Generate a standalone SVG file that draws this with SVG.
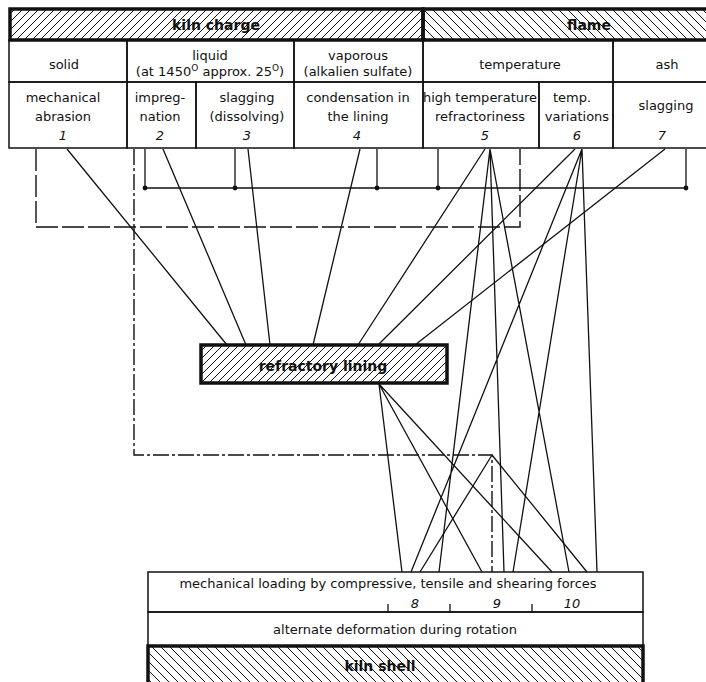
<svg xmlns="http://www.w3.org/2000/svg" width="706" height="682" viewBox="0 0 706 682">
<style>
  .t{font-family:"DejaVu Sans","Liberation Sans",sans-serif;font-size:13px;fill:#111;text-anchor:middle}
  .n{font-family:"DejaVu Sans","Liberation Sans",sans-serif;font-size:13px;font-style:italic;fill:#111;text-anchor:middle}
  .b{font-family:"DejaVu Sans","Liberation Sans",sans-serif;font-size:14px;font-weight:bold;fill:#111;text-anchor:middle}
  .cell{fill:none;stroke:#111;stroke-width:1.5}
  .thick{stroke:#111;stroke-width:3.5}
  .c{stroke:#111;stroke-width:1.3;fill:none}
  .d1{stroke:#111;stroke-width:1.4;fill:none;stroke-dasharray:22 4}
  .d2{stroke:#111;stroke-width:1.4;fill:none;stroke-dasharray:16 3 3 3}
</style>
<defs>
  <pattern id="hf" width="8" height="8" patternUnits="userSpaceOnUse">
    <path d="M-2,2 L2,-2 M0,8 L8,0 M6,10 L10,6" stroke="#111" stroke-width="1"/>
  </pattern>
  <pattern id="hb" width="9" height="9" patternUnits="userSpaceOnUse">
    <path d="M-2,7 L2,11 M0,0 L9,9 M7,-2 L11,2" stroke="#111" stroke-width="1"/>
  </pattern>
</defs>
<rect width="706" height="682" fill="#fff"/>

<g id="kiln-charge">
  <rect x="10" y="9" width="413" height="31" fill="url(#hf)" class="thick"/>
  <text class="b" x="216" y="30">kiln charge</text>
</g>
<g id="flame">
  <rect x="423" y="9" width="300" height="31" fill="url(#hb)" class="thick"/>
  <text class="b" x="589" y="30">flame</text>
</g>

<g id="solid">
  <rect class="cell" x="9" y="40" width="118" height="42"/>
  <text class="t" x="64" y="69">solid</text>
</g>
<g id="liquid">
  <rect class="cell" x="127" y="40" width="167" height="42"/>
  <text class="t" x="210" y="60">liquid</text>
  <text class="t" x="210" y="76">(at 1450<tspan dy="-5" font-size="9">O</tspan><tspan dy="5"> approx. 25</tspan><tspan dy="-5" font-size="9">O</tspan><tspan dy="5">)</tspan></text>
</g>
<g id="vaporous">
  <rect class="cell" x="294" y="40" width="129" height="42"/>
  <text class="t" x="358" y="60">vaporous</text>
  <text class="t" x="358" y="76">(alkalien sulfate)</text>
</g>
<g id="temperature">
  <rect class="cell" x="423" y="40" width="190" height="42"/>
  <text class="t" x="520" y="69">temperature</text>
</g>
<g id="ash">
  <rect class="cell" x="613" y="40" width="110" height="42"/>
  <text class="t" x="667" y="69">ash</text>
</g>

<g id="n1">
  <rect class="cell" x="9" y="82" width="118" height="66"/>
  <text class="t" x="63" y="102">mechanical</text>
  <text class="t" x="63" y="121">abrasion</text>
  <text class="n" x="63" y="140">1</text>
</g>
<g id="n2">
  <rect class="cell" x="127" y="82" width="69" height="66"/>
  <text class="t" x="160" y="102">impreg-</text>
  <text class="t" x="160" y="121">nation</text>
  <text class="n" x="160" y="140">2</text>
</g>
<g id="n3">
  <rect class="cell" x="196" y="82" width="98" height="66"/>
  <text class="t" x="247" y="102">slagging</text>
  <text class="t" x="247" y="121">(dissolving)</text>
  <text class="n" x="247" y="140">3</text>
</g>
<g id="n4">
  <rect class="cell" x="294" y="82" width="129" height="66"/>
  <text class="t" x="358" y="102">condensation in</text>
  <text class="t" x="358" y="121">the lining</text>
  <text class="n" x="357" y="140">4</text>
</g>
<g id="n5">
  <rect class="cell" x="423" y="82" width="116" height="66"/>
  <text class="t" x="480" y="102">high temperature</text>
  <text class="t" x="480" y="121">refractoriness</text>
  <text class="n" x="485" y="140">5</text>
</g>
<g id="n6">
  <rect class="cell" x="539" y="82" width="74" height="66"/>
  <text class="t" x="572" y="102">temp.</text>
  <text class="t" x="577" y="121">variations</text>
  <text class="n" x="577" y="140">6</text>
</g>
<g id="n7">
  <rect class="cell" x="613" y="82" width="110" height="66"/>
  <text class="t" x="666" y="110">slagging</text>
  <text class="n" x="662" y="140">7</text>
</g>

<g id="refractory-lining">
  <rect x="201" y="345" width="246" height="38" fill="url(#hf)" class="thick"/>
  <text class="b" x="323" y="371">refractory lining</text>
</g>

<g id="mechanical-loading">
  <rect class="cell" x="148" y="572" width="495" height="40"/>
  <text class="t" x="388" y="588">mechanical loading by compressive, tensile and shearing forces</text>
  <path class="c" d="M388,604 V612 M450,604 V612 M532,604 V612"/>
  <text class="n" x="415" y="608">8</text>
  <text class="n" x="497" y="608">9</text>
  <text class="n" x="572" y="608">10</text>
</g>
<g id="alternate-deformation">
  <rect class="cell" x="148" y="612" width="495" height="34"/>
  <text class="t" x="395" y="634">alternate deformation during rotation</text>
</g>
<g id="kiln-shell">
  <rect x="148" y="646" width="495" height="45" fill="url(#hb)" class="thick"/>
  <text class="b" x="380" y="671">kiln shell</text>
</g>

<g id="connectors">
  <path class="d1" d="M36,149 V227 H520 V149"/>
  <path class="d2" d="M134,149 V455 H492 V572"/>
  <path class="c" stroke-width="1.5" d="M145,149 V188 M235,149 V188 M377,149 V188 M438,149 V188 M686,149 V188 M145,188 H686"/>
  <g fill="#111">
    <circle cx="145" cy="188" r="2.4"/><circle cx="235" cy="188" r="2.4"/><circle cx="377" cy="188" r="2.4"/><circle cx="438" cy="188" r="2.4"/><circle cx="686" cy="188" r="2.4"/>
  </g>
  <path class="c" d="M67,149 L227,345 M163,149 L246,345 M248,149 L270,345 M360,149 L313,345 M485,149 L358,345 M575,149 L378,345 M665,149 L415,345"/>
  <path class="c" d="M490,149 L439,572 M490,149 L504,572 M490,149 L569,572 M582,149 L411,572 M582,149 L513,572 M582,149 L597,572"/>
  <path class="c" d="M379,384 L402,572 M379,384 L482,572 M379,384 L552,572"/>
  <path class="c" d="M492,455 L420,572 M492,455 L587,572"/>
</g>
</svg>
